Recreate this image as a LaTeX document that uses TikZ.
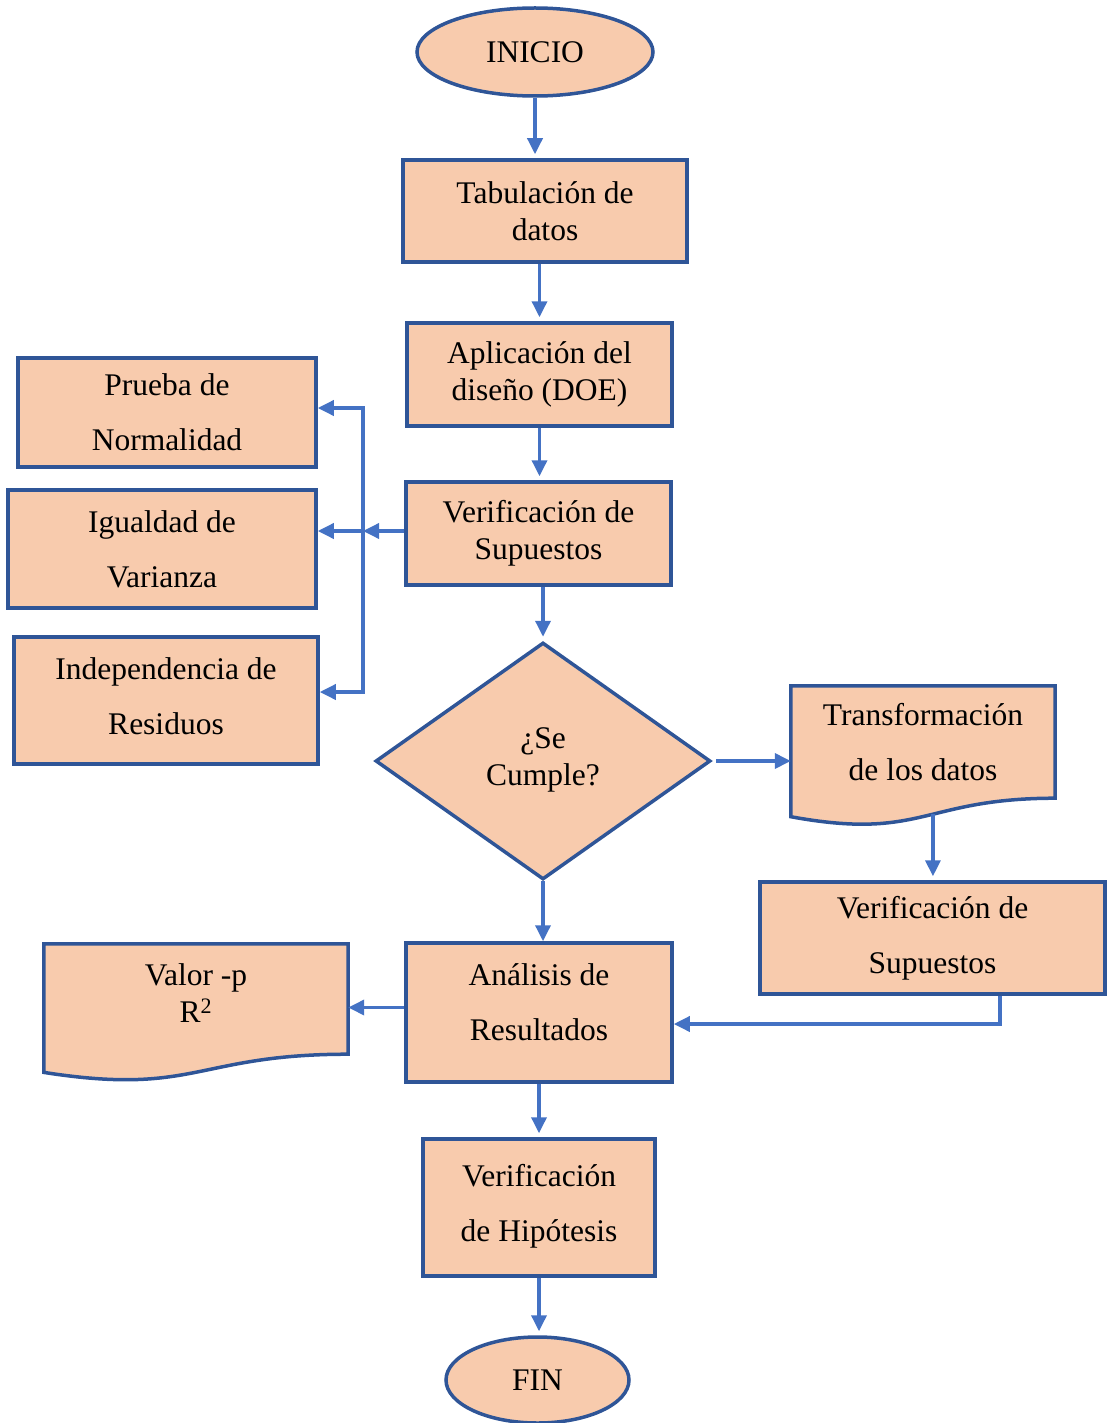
\documentclass[tikz,border=0pt]{standalone}
\usepackage{fontspec}
\setmainfont{Liberation Serif}
\usetikzlibrary{arrows.meta,calc,shapes.geometric,backgrounds}
\definecolor{boxfill}{HTML}{F8CBAD}
\definecolor{boxline}{HTML}{2F5597}
\definecolor{flowline}{HTML}{4472C4}
\tikzset{flow/.style={draw=flowline, line width=3.5pt, -{Triangle[length=16pt,width=15pt]}},
  short/.style={shorten >=4pt},
  stepbox/.style={draw=boxline, fill=boxfill, line width=3.5pt, align=center, inner sep=0pt},
  tightlines/.style={font=\fontsize{31.5}{37}\selectfont},
  looselines/.style={font=\fontsize{31.5}{55}\selectfont},
  term/.style={stepbox, ellipse},
  decision/.style={stepbox, diamond},
  docbox/.style={align=center, inner sep=0pt}}
% page-like box with a wavy lower edge, drawn from the anchors of a docbox node
\newcommand\docpath[1]{%
  \draw[draw=boxline, fill=boxfill, line width=3.5pt] (#1.north west) -- (#1.north east) -- (#1.south east)
    .. controls (#1.south) and ($(#1.north)!1.381!(#1.south)$) .. ($(#1.north west)!1.1646!(#1.south west)$)
    coordinate[pos=0.45] (#1 wave) -- cycle;}

\begin{document}
\begin{tikzpicture}[x=1pt, y=-1pt, tightlines]
  \useasboundingbox (0,0) rectangle (1106,1423);
  % main column
  \node[term, minimum width=236pt, minimum height=88pt] (ini) at (535,52) {INICIO};
  \node[stepbox, tightlines, minimum width=284pt, minimum height=102pt] (tab) at (545,211) {Tabulación de\\datos};
  \node[stepbox, tightlines, minimum width=265pt, minimum height=103pt] (apl) at (539.5,374.5) {Aplicación del\\diseño (DOE)};
  \node[stepbox, tightlines, minimum width=265pt, minimum height=103pt] (sup) at (538.5,533.5) {Verificación de\\Supuestos};
  \node[decision, tightlines, minimum width=335pt, minimum height=237pt, text depth=8pt] (dia) at (543,761) {¿Se\\Cumple?};
  \node[stepbox, looselines, minimum width=266pt, minimum height=139pt, text depth=20pt] (ana) at (539,1012.5) {Análisis de\\Resultados};
  \node[stepbox, looselines, minimum width=232pt, minimum height=137pt, text depth=10pt] (hip) at (539,1207.5) {Verificación\\de Hipótesis};
  \node[term, minimum width=183pt, minimum height=86pt] (fin) at (537.5,1380) {FIN};
  % assumption checks on the left
  \node[stepbox, looselines, minimum width=298pt, minimum height=109pt] (nor) at (167,412.5) {Prueba de\\Normalidad};
  \node[stepbox, looselines, minimum width=308pt, minimum height=118pt] (var) at (162,549) {Igualdad de\\Varianza};
  \node[stepbox, looselines, minimum width=304pt, minimum height=127pt, text depth=8pt] (res) at (166,700.5) {Independencia de\\Residuos};
  % right branch
  \node[docbox, looselines, minimum width=264pt, minimum height=112pt] (trf) at (923,742) {Transformación\\de los datos};
  \node[stepbox, looselines, minimum width=345pt, minimum height=112pt] (sup2) at (932.5,938) {Verificación de\\Supuestos};
  % results output
  \node[docbox, tightlines, minimum width=304pt, minimum height=110pt, text depth=12pt] (val) at (196,999) {Valor -p\\R\textsuperscript{2}};
  \begin{scope}[on background layer]
    \docpath{trf}
    \docpath{val}
  \end{scope}
  \coordinate (busmid) at (363,531);
  \coordinate (bustop) at (363,408);
  \coordinate (busbot) at (363,692);
  \coordinate (back) at (1000,1024);
  % connectors
  \draw[flow, short] (ini.south) -- (ini.south |- tab.north);
  \draw[flow, short] (apl.north |- tab.south) -- (apl.north);
  \draw[flow, short] (apl.south) -- (apl.south |- sup.north);
  \draw[flow, short] (dia.north |- sup.south) -- (dia.north);
  \draw[flow] (sup.west |- busmid) -- (busmid);
  \draw[flow] (busmid) -- (var.east |- busmid);
  \draw[flow] (busmid) -- (bustop) -- (nor.east |- bustop);
  \draw[flow] (busmid) -- (busbot) -- (res.east |- busbot);
  \draw[flow, shorten <=4pt] (dia.east) -- (dia.east -| trf.west);
  \draw[flow, short] (trf wave) -- (trf wave |- sup2.north);
  \draw[flow] (sup2.south -| back) -- (back) -- (ana.east |- back);
  \draw[flow] (dia.south) -- (dia.south |- ana.north);
  \draw[flow] ($(ana.west)+(0,-5)$) -- (val.east |- {$(ana.west)+(0,-5)$});
  \draw[flow, short] (ana.south) -- (ana.south |- hip.north);
  \draw[flow, short] (hip.south) -- (hip.south |- fin.north);
\end{tikzpicture}
\end{document}
